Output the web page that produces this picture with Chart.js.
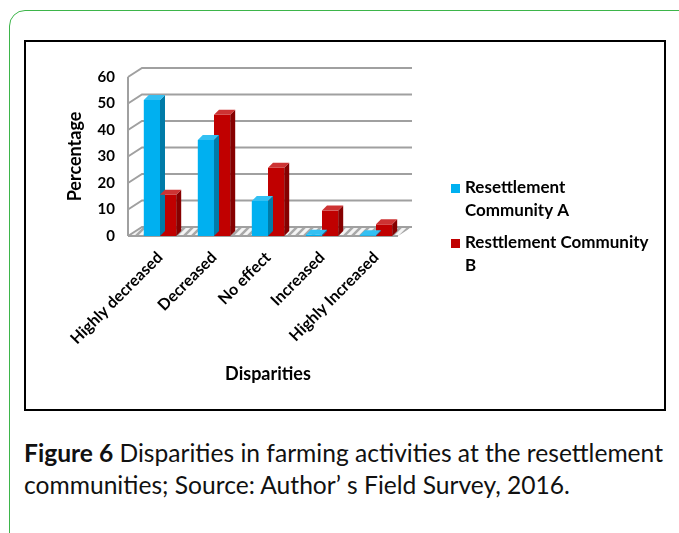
<!DOCTYPE html>
<html>
<head>
<meta charset="utf-8">
<script src="https://cdn.jsdelivr.net/npm/chart.js@4.4.1/dist/chart.umd.min.js"></script>
<style>
  body { margin: 0; background: #fff; width: 679px; height: 533px; overflow: hidden; position: relative; font-family: Lato, sans-serif; }
  #frame { position: absolute; left: 9px; top: 10px; width: 720px; height: 600px; border: 1.5px solid #3db54a; border-radius: 16px; }
  #box { position: absolute; left: 24px; top: 40px; width: 638px; height: 367px; border: 2px solid #000; }
  #caption { position: absolute; left: 24px; top: 437px; width: 655px; font-size: 24.6px; line-height: 32px; color: #111; white-space: nowrap; }
</style>
</head>
<body>
<div id="frame"></div>
<div id="box"><canvas id="chart" width="638" height="367"></canvas></div>
<div id="caption"><b>Figure 6</b> Disparities in farming activities at the resettlement<br>communities; Source: Author’ s Field Survey, 2016.</div>
<script>
var categories = ["Highly decreased", "Decreased", "No effect", "Increased", "Highly Increased"];
var communityA = [51.3, 36.2, 13.2, 0.5, 0.3];
var communityB = [15.6, 45.8, 25.8, 9.6, 4.4];
var yTicks = [0, 10, 20, 30, 40, 50, 60];

var DX = 14, DY = 9;       // back wall offset
var BDX = 5, BDY = 5;      // bar depth
var font = "Lato";

function shade(hex, amt) {
    var n = parseInt(hex.slice(1), 16);
    var r = (n >> 16) & 255, g = (n >> 8) & 255, b = n & 255;
    function f(c) { return Math.max(0, Math.min(255, Math.round(amt < 0 ? c * (1 + amt) : c + (255 - c) * amt))); }
    return "rgb(" + f(r) + "," + f(g) + "," + f(b) + ")";
}

// striped floor like the excel 3d floor
function floorPattern(ctx) {
    var c = document.createElement("canvas");
    c.width = 8; c.height = 8;
    var p = c.getContext("2d");
    p.fillStyle = "#f4f4f4"; p.fillRect(0, 0, 8, 8);
    p.strokeStyle = "#a8a8a8"; p.lineWidth = 2.5;
    p.beginPath(); p.moveTo(0, 8); p.lineTo(8, 0); p.moveTo(-2, 2); p.lineTo(2, -2); p.moveTo(6, 10); p.lineTo(10, 6); p.stroke();
    return ctx.createPattern(c, "repeat");
}

var walls = {
    id: "walls",
    beforeDatasetsDraw: function(chart) {
        var ctx = chart.ctx, a = chart.chartArea, y = chart.scales.y;
        var left = a.left - 5, right = a.right - 5;
        var y0 = y.getPixelForValue(0);
        ctx.save();
        ctx.fillStyle = floorPattern(ctx);
        ctx.beginPath();
        ctx.moveTo(left, y0); ctx.lineTo(right, y0);
        ctx.lineTo(right + DX, y0 - DY); ctx.lineTo(left + DX, y0 - DY);
        ctx.closePath(); ctx.fill();
        ctx.strokeStyle = "#a0a0a0"; ctx.lineWidth = 2;
        yTicks.forEach(function(v) {
            var p = y.getPixelForValue(v);
            ctx.beginPath();
            ctx.moveTo(left, p); ctx.lineTo(left + DX, p - DY);
            ctx.lineTo(right + DX, p - DY);
            ctx.stroke();
        });
        ctx.beginPath();
        ctx.moveTo(left, y0); ctx.lineTo(left, y.getPixelForValue(60));
        ctx.moveTo(left, y0); ctx.lineTo(right, y0);
        ctx.stroke();
        ctx.restore();
    },
    afterDatasetsDraw: function(chart) {
        var ctx = chart.ctx;
        ctx.save();
        chart.data.datasets.forEach(function(ds, i) {
            chart.getDatasetMeta(i).data.forEach(function(bar) {
                var x1 = bar.x - bar.width / 2, x2 = bar.x + bar.width / 2;
                var top = bar.y, base = bar.base;
                ctx.fillStyle = shade(ds.backgroundColor, -0.3);
                ctx.beginPath();
                ctx.moveTo(x2, base); ctx.lineTo(x2 + BDX, base - BDY);
                ctx.lineTo(x2 + BDX, top - BDY); ctx.lineTo(x2, top);
                ctx.closePath(); ctx.fill();
                ctx.fillStyle = shade(ds.backgroundColor, 0.2);
                ctx.beginPath();
                ctx.moveTo(x1, top); ctx.lineTo(x2, top);
                ctx.lineTo(x2 + BDX, top - BDY); ctx.lineTo(x1 + BDX, top - BDY);
                ctx.closePath(); ctx.fill();
            });
        });
        ctx.restore();
    },
    afterDraw: function(chart) {
        var ctx = chart.ctx;
        var lx = 425, ly = 146, maxW = 187, lh = 23;
        ctx.save();
        ctx.font = "bold 17px " + font;
        ctx.textBaseline = "middle";
        chart.data.datasets.forEach(function(ds) {
            ctx.fillStyle = ds.backgroundColor;
            ctx.fillRect(lx, ly - 4, 9, 9);
            var words = ds.label.split(" "), line = "", lines = [];
            words.forEach(function(w) {
                var t = line ? line + " " + w : w;
                if (ctx.measureText(t).width > maxW && line) { lines.push(line); line = w; } else line = t;
            });
            lines.push(line);
            ctx.fillStyle = "#000";
            lines.forEach(function(l, k) { ctx.fillText(l, lx + 14, ly + k * lh); });
            ly += lines.length * lh + 9;
        });
        ctx.restore();
    }
};

new Chart(document.getElementById("chart"), {
    type: "bar",
    data: {
        labels: categories,
        datasets: [
            { label: "Resettlement Community A", data: communityA, backgroundColor: "#00B0F0", categoryPercentage: 0.6, barPercentage: 1 },
            { label: "Resttlement Community B", data: communityB, backgroundColor: "#C00000", categoryPercentage: 0.6, barPercentage: 1 }
        ]
    },
    options: {
        responsive: false,
        animation: false,
        devicePixelRatio: 1,
        layout: { padding: { top: 35, right: 261, bottom: 24, left: 0 } },
        plugins: { legend: { display: false }, tooltip: { enabled: false } },
        scales: {
            x: {
                grid: { display: false },
                border: { display: false },
                ticks: { color: "#000", font: { family: font, weight: "bold", size: 16 }, minRotation: 45, maxRotation: 45, padding: 4 },
                title: { display: true, text: "Disparities", color: "#000", font: { family: font, weight: "bold", size: 18 }, padding: { top: 0, bottom: 0 } },
                afterFit: function(s) { s.height = 149; }
            },
            y: {
                min: 0, max: 60,
                grid: { display: false, drawTicks: false },
                border: { display: false },
                ticks: { stepSize: 10, color: "#000", font: { family: font, weight: "bold", size: 15 }, padding: 18 },
                title: { display: true, text: "Percentage", color: "#000", font: { family: font, weight: "bold", size: 18 }, padding: { top: 38, bottom: 0 } },
                afterFit: function(s) { s.width = 107; }
            }
        }
    },
    plugins: [walls]
});
</script>
</body>
</html>
